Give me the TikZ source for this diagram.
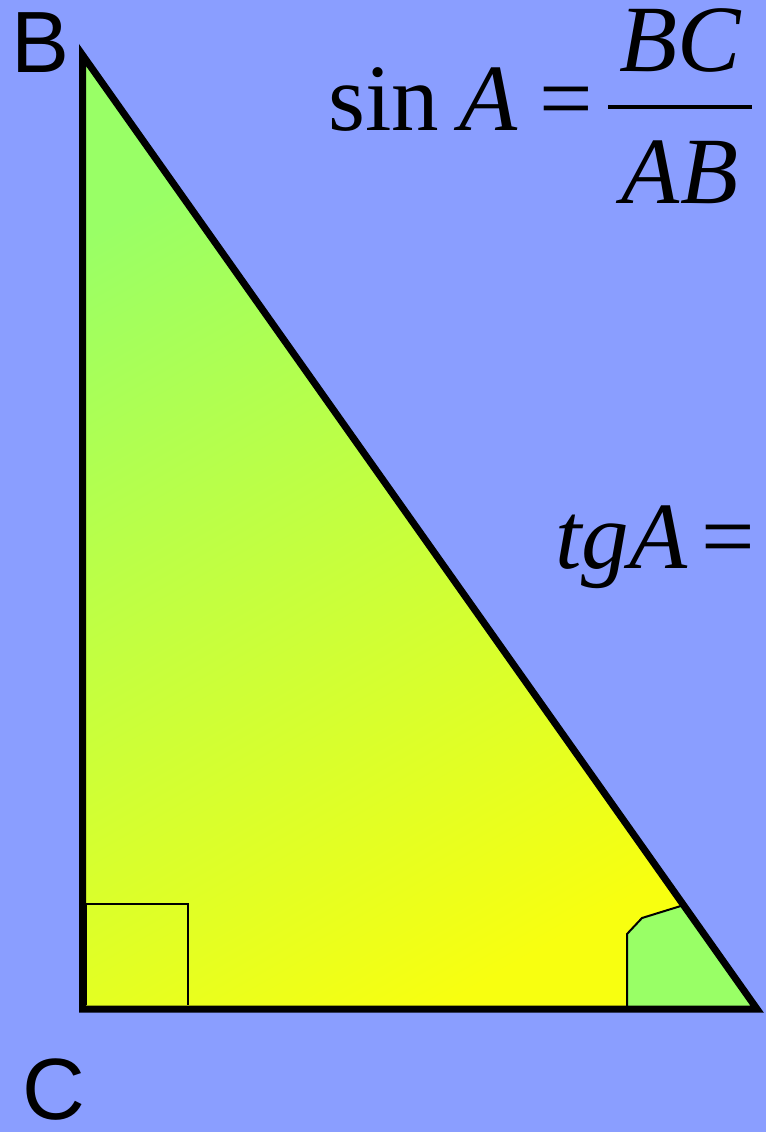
\documentclass[tikz,border=0pt]{standalone}
\usepackage{fontspec}
\setmainfont{Liberation Serif}
\setsansfont{Liberation Sans}
\usetikzlibrary{positioning}

\definecolor{bgblue}{HTML}{8A9EFF}
\definecolor{leafgreen}{HTML}{99FF66}
\definecolor{lemon}{HTML}{F8FF10}

\begin{document}
\begin{tikzpicture}[x=1pt,y=-1pt,
  side/.style={draw,line width=7pt},
  hair/.style={draw,line width=1.6pt},
  vlabel/.style={font=\sffamily\fontsize{87}{87}\selectfont,inner sep=0pt,anchor=base west},
  eq/.style={font=\fontsize{95}{95}\selectfont,inner sep=0pt,anchor=base west},
  frac/.style={font=\fontsize{95}{95}\selectfont\itshape,inner sep=0pt,anchor=base}]
  \fill[bgblue] (0,0) rectangle (766,1132);
  \useasboundingbox (0,0) rectangle (766,1132);
  \coordinate (B) at (82.5,55);
  \coordinate (C) at (82.5,1009);
  \coordinate (A) at (757,1009);
  % triangle body
  \shade[top color=leafgreen,bottom color=lemon,shading angle=30] (B) -- (C) -- (A) -- cycle;
  % angle at A and right angle at C
  \filldraw[fill=leafgreen,line width=2pt] (627,1009) -- (627,934) -- (642,918) -- (684,905) -- (A) -- cycle;
  \draw[hair] (86,1005) -- (86,904) -- (188,904) -- (188,1005);
  \draw[side] (B) -- (C) -- (A) -- cycle;
  % vertex labels
  \node[vlabel] (lblB) at (11,72) {B};
  \node[vlabel] (lblC) at (22,1119) {C};
  % formulas
  \node[eq] (sinA) at (328,130) {sin\hspace{20pt}\textit{A}\hspace{22pt}=};
  \node[frac] (num) at (680,71) {BC};
  \node[frac] (den) at (680,203) {AB};
  \draw[line width=4.5pt] (608,107) -- (752,107);
  \node[eq] (tgA) at (555,568) {\textit{tgA}\hspace{14pt}=};
\end{tikzpicture}
\end{document}
